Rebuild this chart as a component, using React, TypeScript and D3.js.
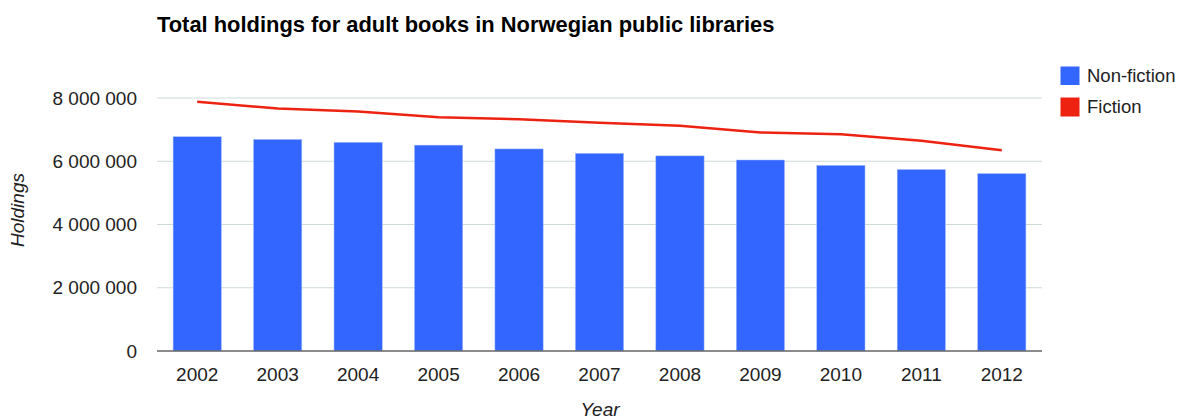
import React from "react";
import * as d3 from "d3";

const years = ["2002","2003","2004","2005","2006","2007","2008","2009","2010","2011","2012"];
const nonFiction = [6776000, 6690000, 6600000, 6510000, 6390000, 6250000, 6170000, 6040000, 5870000, 5740000, 5610000];
const fiction = [7880000, 7670000, 7570000, 7390000, 7330000, 7220000, 7120000, 6910000, 6850000, 6650000, 6350000];
const yTicks = [0, 2000000, 4000000, 6000000, 8000000];

const W = 1184, H = 419;
const left = 157, right = 1042, top = 98, bottom = 351;
const BLUE = "#3366ff";
const RED = "#ee2211";
const FONT = "Arial, 'Liberation Sans', sans-serif";

export default function App() {
  const x = d3.scaleBand<string>().domain(years).range([left, right]).paddingInner(0.4).paddingOuter(0.2);
  const y = d3.scaleLinear().domain([0, 8000000]).range([bottom, top]);
  const fmt = (v: number) => d3.format(",")(v).replace(/,/g, " ");
  const line = d3.line<number>()
    .x((_, i) => (x(years[i]) as number) + x.bandwidth() / 2)
    .y((d) => y(d));

  return (
    <svg width={W} height={H} style={{ position: "absolute", left: 0, top: 0, background: "#fff" }} fontFamily={FONT}>
      <text x={157} y={31.5} fontSize={21.9} fontWeight="bold" fill="#000">Total holdings for adult books in Norwegian public libraries</text>
      {yTicks.filter(t => t > 0).map(t => (
        <line key={t} x1={left} x2={right} y1={y(t)} y2={y(t)} stroke="#cfd9d9" strokeWidth={1.2} />
      ))}
      {yTicks.map(t => (
        <text key={"l" + t} x={137} y={y(t)} dy="0.35em" textAnchor="end" fontSize={19} fill="#222">{fmt(t)}</text>
      ))}
      {years.map((yr, i) => (
        <rect key={yr} x={x(yr)} y={y(nonFiction[i])} width={x.bandwidth()} height={bottom - y(nonFiction[i])} fill={BLUE} stroke="#a7bff5" strokeWidth={0.5} />
      ))}
      <line x1={left} x2={right} y1={bottom} y2={bottom} stroke="#666" strokeWidth={1.5} />
      <path d={line(fiction) || ""} fill="none" stroke={RED} strokeWidth={2.5} />
      {years.map(yr => (
        <text key={"x" + yr} x={(x(yr) as number) + x.bandwidth() / 2} y={380.5} textAnchor="middle" fontSize={19} fill="#222">{yr}</text>
      ))}
      <text x={600} y={416} textAnchor="middle" fontSize={19} fontStyle="italic" fill="#222">Year</text>
      <text transform="translate(24,210) rotate(-90)" textAnchor="middle" fontSize={19} fontStyle="italic" fill="#222">Holdings</text>
      <rect x={1060.5} y={66.5} width={19} height={18.5} fill={BLUE} />
      <text x={1087} y={76} dy="0.35em" fontSize={18.5} fill="#222">Non-fiction</text>
      <rect x={1060.5} y={97.5} width={19} height={19} fill={RED} />
      <text x={1087} y={107} dy="0.35em" fontSize={18.5} fill="#222">Fiction</text>
    </svg>
  );
}
